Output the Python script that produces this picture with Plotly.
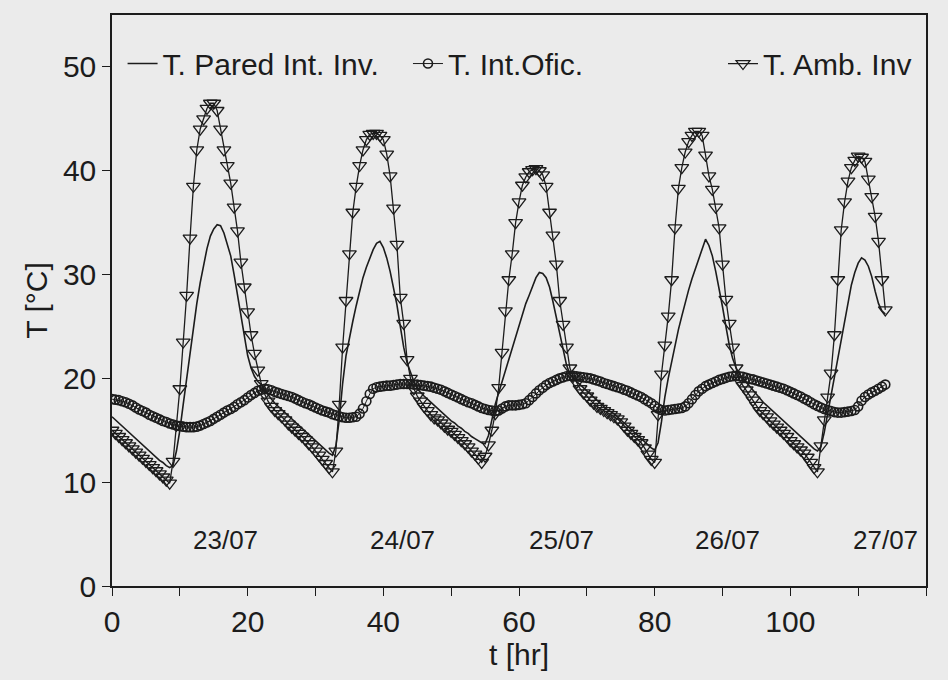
import numpy as np
import plotly.graph_objects as go

# sampling grid (hours), half-hour readings
hours = np.arange(0, 114.5, 0.5)

t_pared = [
    16.3, 16.0, 15.7, 15.4, 15.1, 14.8, 14.5, 14.2, 13.9, 13.6,
    13.3, 13.0, 12.7, 12.4, 12.1, 11.9, 11.6, 11.4, 11.6, 13.0,
    15.0, 17.5, 20.0, 22.5, 25.0, 27.2, 29.2, 31.0, 32.5, 33.7,
    34.4, 34.8, 34.7, 34.0, 33.0, 31.8, 30.0, 28.0, 25.8, 23.8,
    22.2, 21.0, 20.2, 19.7, 19.4, 18.9, 18.4, 18.0, 17.6, 17.3,
    17.0, 16.7, 16.4, 16.1, 15.8, 15.5, 15.2, 14.9, 14.6, 14.3,
    14.0, 13.7, 13.4, 13.1, 12.8, 12.6, 13.5, 16.0, 19.5, 22.2,
    24.0, 25.5, 27.0, 28.4, 29.7, 30.7, 31.6, 32.4, 33.0, 33.2,
    32.6, 31.6, 30.3, 28.8, 27.1, 25.0, 23.0, 21.5, 20.5, 19.7,
    19.0, 18.6, 18.3, 18.0, 17.7, 17.4, 17.1, 16.8, 16.5, 16.2,
    15.9, 15.7, 15.4, 15.2, 14.9, 14.7, 14.4, 14.2, 14.0, 13.8,
    13.7, 14.5, 16.0, 17.5, 18.6, 19.7, 20.8, 21.9, 23.0, 24.1,
    25.2, 26.3, 27.2, 28.0, 28.9, 29.7, 30.2, 30.1, 29.7, 28.8,
    27.4, 25.9, 24.3, 22.7, 21.3, 20.4, 20.0, 19.7, 19.4, 19.1,
    18.8, 18.5, 18.2, 17.9, 17.6, 17.3, 17.0, 16.8, 16.6, 16.3,
    16.0, 15.7, 15.4, 15.1, 14.8, 14.5, 14.2, 13.9, 13.6, 13.3,
    13.1, 13.8, 15.8, 18.2, 20.0, 21.6, 23.2, 24.7, 26.0, 27.3,
    28.5, 29.6, 30.6, 31.6, 32.6, 33.4, 32.8, 31.8, 30.3, 28.7,
    26.9, 25.0, 23.2, 21.9, 21.0, 20.4, 20.0, 19.6, 19.2, 18.8,
    18.4, 18.0, 17.7, 17.4, 17.1, 16.8, 16.5, 16.2, 15.9, 15.6,
    15.3, 15.0, 14.7, 14.4, 14.1, 13.8, 13.5, 13.2, 13.0, 13.4,
    14.8, 16.6, 18.5, 20.3, 22.1, 23.9, 25.8, 27.6, 29.0, 30.2,
    31.1, 31.6, 31.4, 30.8, 29.8, 28.4, 27.2, 26.5, 26.2,
]

t_ofic = [
    18.0, 17.95, 17.9, 17.8, 17.7, 17.55, 17.4, 17.2, 17.0, 16.85,
    16.7, 16.5, 16.35, 16.2, 16.05, 15.9, 15.8, 15.65, 15.55, 15.45,
    15.4, 15.35, 15.3, 15.3, 15.3, 15.35, 15.45, 15.6, 15.75, 15.9,
    16.1, 16.3, 16.5, 16.7, 16.9, 17.05, 17.25, 17.5, 17.7, 17.9,
    18.15, 18.4, 18.6, 18.8, 18.9, 19.0, 18.95, 18.85, 18.7, 18.6,
    18.5, 18.4, 18.3, 18.2, 18.05, 17.9, 17.75, 17.6, 17.5, 17.35,
    17.2, 17.05, 16.9, 16.8, 16.7, 16.55, 16.45, 16.35, 16.25, 16.2,
    16.2, 16.25, 16.3, 16.6, 17.1, 17.8, 18.5, 19.0, 19.15, 19.2,
    19.25, 19.3, 19.3, 19.35, 19.4, 19.45, 19.45, 19.45, 19.45, 19.4,
    19.4, 19.35, 19.3, 19.25, 19.2, 19.1, 19.0, 18.9, 18.75, 18.6,
    18.45, 18.3, 18.15, 18.0, 17.85, 17.7, 17.6, 17.45, 17.3, 17.15,
    17.05, 16.95, 16.9, 16.85, 16.9, 17.1, 17.3, 17.4, 17.4, 17.4,
    17.45, 17.5, 17.6, 17.9, 18.2, 18.55, 18.85, 19.1, 19.35, 19.55,
    19.7, 19.85, 20.0, 20.1, 20.2, 20.25, 20.25, 20.2, 20.15, 20.1,
    20.05, 20.0, 19.9, 19.8, 19.7, 19.55, 19.45, 19.35, 19.25, 19.15,
    19.05, 18.9, 18.8, 18.65, 18.5, 18.35, 18.2, 18.0, 17.8, 17.6,
    17.35, 17.1, 16.95, 16.9, 16.95, 17.0, 17.05, 17.1, 17.15, 17.3,
    17.6, 18.0, 18.4, 18.75, 19.0, 19.25, 19.4, 19.55, 19.7, 19.85,
    19.95, 20.05, 20.15, 20.2, 20.25, 20.2, 20.15, 20.05, 19.95, 19.9,
    19.8, 19.7, 19.6, 19.5, 19.4, 19.3, 19.2, 19.1, 19.0, 18.85,
    18.7, 18.55, 18.4, 18.25, 18.05, 17.9, 17.7, 17.5, 17.35, 17.2,
    17.05, 16.95, 16.85, 16.75, 16.7, 16.7, 16.75, 16.8, 16.85, 16.95,
    17.3, 17.85, 18.2, 18.45, 18.65, 18.8, 19.0, 19.2, 19.4,
]

t_amb = [
    15.0, 14.7, 14.4, 14.1, 13.8, 13.5, 13.2, 12.9, 12.6, 12.3,
    12.0, 11.7, 11.4, 11.1, 10.8, 10.5, 10.2, 9.9, 12.0, 15.5,
    19.0, 23.5, 28.0, 33.5, 38.5, 42.0, 44.0, 45.0, 46.0, 46.5,
    46.5, 45.8, 44.0, 42.0, 40.5, 38.8, 36.5, 34.2, 31.2, 28.8,
    26.4, 24.2, 22.4, 20.8, 19.5, 18.5, 17.8, 17.3, 16.9, 16.6,
    16.3, 16.0, 15.6, 15.3, 15.0, 14.7, 14.4, 14.1, 13.7, 13.4,
    13.0, 12.6, 12.2, 11.8, 11.4, 11.0, 13.0, 17.5, 23.0, 27.5,
    32.0, 36.0, 38.5, 40.5, 42.0, 43.0, 43.5, 43.6, 43.6, 43.4,
    43.0, 41.6, 39.5, 36.4, 32.9, 27.8, 25.3, 21.8, 20.0, 19.0,
    18.3, 17.8, 17.3, 16.9, 16.5, 16.2, 16.0, 15.7, 15.4, 15.1,
    14.9, 14.6, 14.3, 14.0, 13.7, 13.4, 13.0, 12.7, 12.3, 11.9,
    12.5, 13.6, 15.0, 16.6, 19.1, 22.5, 26.5, 29.5, 32.0, 35.0,
    37.0, 38.6, 39.4, 39.9, 40.1, 40.2, 40.0, 39.6, 38.5, 36.0,
    33.8, 31.0, 27.5, 25.2, 23.0, 21.0, 20.2, 19.6, 19.0, 18.6,
    18.3, 17.9, 17.6, 17.3, 17.1, 16.9, 16.7, 16.5, 16.3, 16.1,
    15.8, 15.4, 15.0, 14.7, 14.4, 14.1, 13.8, 13.3, 12.7, 12.2,
    11.9, 16.5, 20.4, 23.2, 26.0, 29.5, 34.5, 38.3, 40.3, 41.8,
    42.8, 43.4, 43.8, 43.8, 43.4, 41.5, 39.5, 38.2, 36.5, 34.5,
    31.0, 27.6, 25.3, 23.0, 21.0, 19.8, 19.3, 18.9, 18.4, 17.9,
    17.4, 16.9, 16.6, 16.3, 15.9, 15.6, 15.3, 15.0, 14.7, 14.4,
    14.0, 13.7, 13.4, 13.1, 12.8, 12.4, 11.9, 11.4, 11.0, 13.5,
    16.0, 18.2, 20.5, 24.2, 29.5, 34.3, 37.0, 39.0, 40.3, 41.0,
    41.4, 41.3, 40.9, 39.2, 37.5, 35.6, 33.2, 29.5, 26.6,
]

series_names = ["T. Pared Int. Inv.", "T. Int.Ofic.", "T. Amb. Inv"]
day_labels = ["23/07", "24/07", "25/07", "26/07", "27/07"]
x_ticks = [0, 20, 40, 60, 80, 100, 120]
y_ticks = [0, 10, 20, 30, 40, 50]

FONT = "Liberation Sans, Arial, Helvetica, sans-serif"
INK = "#1c1c1c"
BG = "#ebebeb"

fig = go.Figure()
fig.add_trace(go.Scatter(
    x=hours, y=t_pared, name=series_names[0], mode="lines",
    line=dict(color=INK, width=1.6), legend="legend", showlegend=True,
))
fig.add_trace(go.Scatter(
    x=hours, y=t_ofic, name=series_names[1], mode="lines+markers",
    line=dict(color=INK, width=1.0),
    marker=dict(symbol="circle-open", size=9, color=INK, line=dict(width=1.6, color=INK)),
    legend="legend2", showlegend=True,
))
fig.add_trace(go.Scatter(
    x=hours, y=t_amb, name=series_names[2], mode="lines+markers",
    line=dict(color=INK, width=1.3),
    marker=dict(symbol="triangle-down-open", size=12, color=INK, line=dict(width=1.3, color=INK)),
    legend="legend3", showlegend=True,
))

# day labels placed under each daily peak
label_pos = [16.7, 42.8, 66.3, 90.8, 114.0]
for lab, xp in zip(day_labels, label_pos):
    fig.add_annotation(x=xp, y=4.4, text=lab, showarrow=False,
                       font=dict(family=FONT, size=26, color=INK),
                       xanchor="center", yanchor="middle")

leg_common = dict(bgcolor="rgba(0,0,0,0)", borderwidth=0, yanchor="middle",
                  xanchor="left", orientation="h",
                  font=dict(family=FONT, size=30, color=INK))

fig.update_layout(
    width=948, height=680,
    margin=dict(l=112, r=22, t=15, b=94),
    paper_bgcolor=BG, plot_bgcolor=BG,
    showlegend=True,
    font=dict(family=FONT, size=30, color=INK),
    legend=dict(x=0.013, y=0.915, **leg_common),
    legend2=dict(x=0.3636, y=0.915, **leg_common),
    legend3=dict(x=0.7506, y=0.915, **leg_common),
    xaxis=dict(
        range=[0, 120], tickvals=x_ticks, showgrid=False, zeroline=False,
        showline=True, linecolor=INK, linewidth=1.5, mirror=True,
        ticks="outside", ticklen=8, tickwidth=1.3, tickcolor=INK,
        minor=dict(dtick=10, ticks="outside", ticklen=8, tickwidth=1.3, tickcolor=INK),
        tickfont=dict(family=FONT, size=30, color=INK),
        title=dict(text="t [hr]", font=dict(family=FONT, size=30, color=INK), standoff=4),
    ),
    yaxis=dict(
        range=[0, 55], tickvals=y_ticks, showgrid=False, zeroline=False,
        showline=True, linecolor=INK, linewidth=1.5, mirror=True,
        ticks="outside", ticklen=8, tickwidth=1.3, tickcolor=INK,
        tickfont=dict(family=FONT, size=30, color=INK),
        title=dict(text="T [°C]", font=dict(family=FONT, size=30, color=INK), standoff=6),
    ),
)

fig.write_html(
    "out.html",
    config={"displayModeBar": False},
    post_script="document.body.style.margin='0';document.body.style.background='#ebebeb';",
)
